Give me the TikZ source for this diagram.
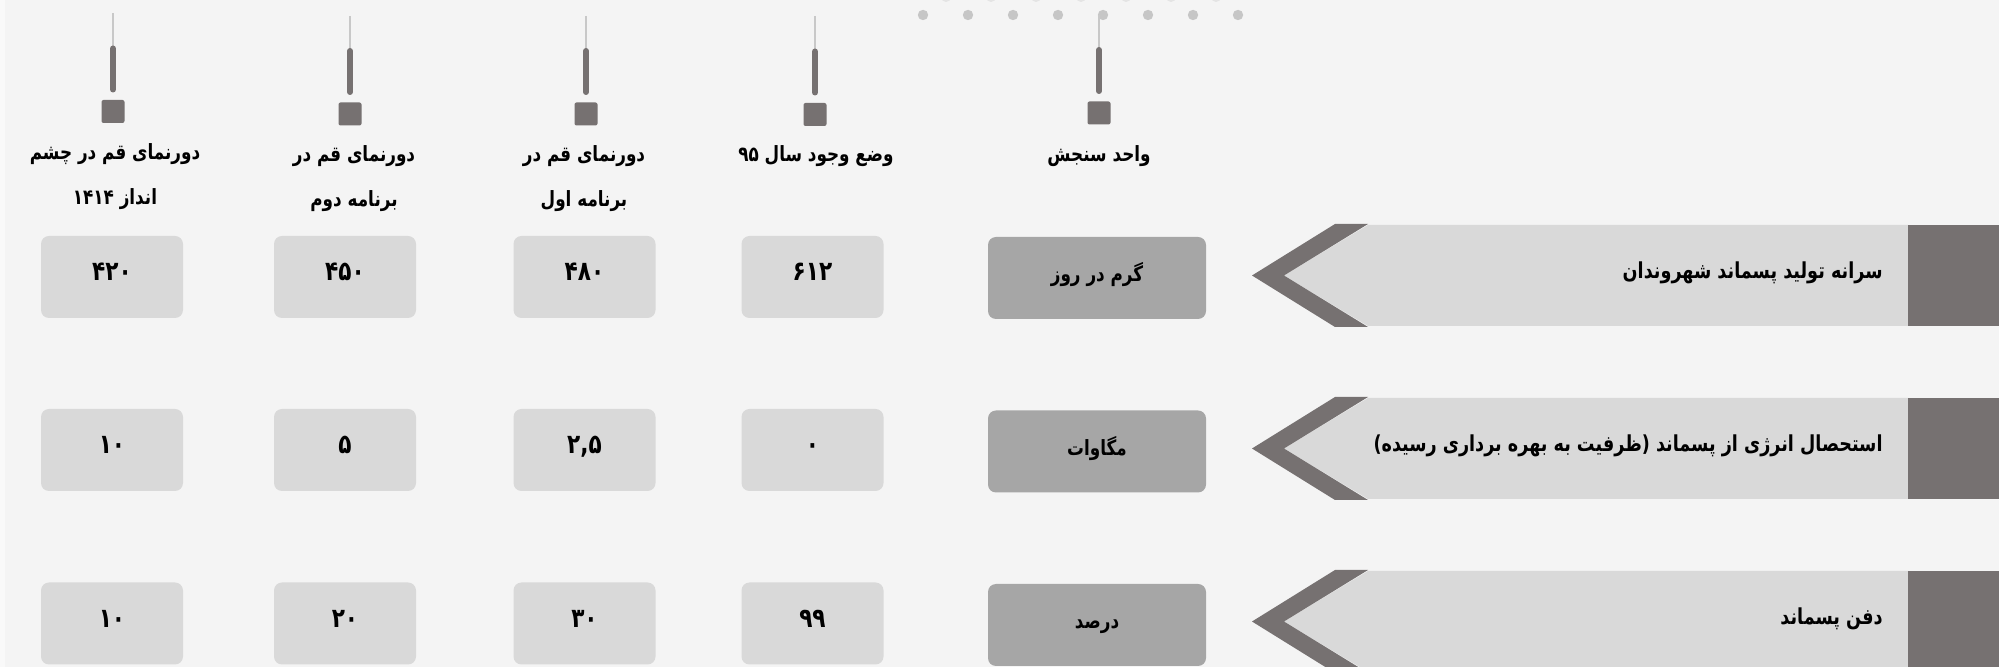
\documentclass[tikz,border=0pt]{standalone}
\usepackage{fontspec}
\TeXXeTstate=1
\newfontfamily\fa[Script=Arabic,FakeStretch=0.8]{DejaVu Sans}
\definecolor{bg}{HTML}{F4F4F4}
\definecolor{dk}{HTML}{767171}
\definecolor{lt}{HTML}{D9D9D9}
\definecolor{md}{HTML}{A6A6A6}
\definecolor{thinc}{HTML}{C8C8C8}
\definecolor{dotc}{HTML}{C6C6C6}
\definecolor{dotf}{HTML}{E4E4E4}
\tikzset{
 valbox/.style={fill=lt, rounded corners=4pt, minimum width=71pt, minimum height=41pt, inner sep=0pt,
   text height=4pt, text depth=0pt, font=\fa\bfseries\fontsize{13.5}{15}\selectfont},
 unitbox/.style={fill=md, rounded corners=4pt, minimum width=109pt, minimum height=41pt, inner sep=0pt,
   text height=4pt, text depth=0pt, font=\fa\bfseries\fontsize{10.5}{13}\selectfont},
 headtxt/.style={anchor=base, inner sep=0pt, font=\fa\bfseries\fontsize{10.5}{13}\selectfont},
 bandtxt/.style={anchor=base east, inner sep=0pt, font=\fa\bfseries\fontsize{11}{13}\selectfont},
 pinsq/.style={fill=dk, rounded corners=1pt, minimum size=11.5pt, inner sep=0pt},
 thinline/.style={draw=thinc, line width=1.4pt},
 thickline/.style={draw=dk, line width=3pt, line cap=round},
}
\begin{document}
\begin{tikzpicture}[x=0.5pt,y=-0.5pt]
\useasboundingbox (0,0) rectangle (1999,667);
\fill[bg] (0,0) rectangle (1999,667);
\fill[white!50!bg] (0,0) rectangle (5,667);
% faint dots at the top
\foreach \k in {0,...,6} \fill[dotf] (946+45*\k,-3) circle (2.5pt);
\foreach \k in {0,...,7} \fill[dotc] (923+45*\k,15) circle (2.6pt);
% pins
\foreach \x/\t/\s [count=\i] in {113/13/111.5, 350/16/114, 586/16/114, 815/16/114.5, 1099/15/113}{
  \draw[thinline] (\x,\t) -- (\x,\s-63);
  \draw[thickline] (\x,\s-63) -- (\x,\s-22);
  \node[pinsq] (pin\i) at (\x,\s) {};
}
% headers
\node[headtxt] (h1a) at (115,160) {\beginR دورنمای قم در چشم\endR};
\node[headtxt] (h1b) at (115,205) {\beginR انداز ۱۴۱۴\endR};
\node[headtxt] (h2a) at (354,162) {\beginR دورنمای قم در\endR};
\node[headtxt] (h2b) at (354,207) {\beginR برنامه دوم\endR};
\node[headtxt] (h3a) at (584,162) {\beginR دورنمای قم در\endR};
\node[headtxt] (h3b) at (584,207) {\beginR برنامه اول\endR};
\node[headtxt] (h4) at (816,162) {\beginR وضع وجود سال ۹۵\endR};
\node[headtxt] (h5) at (1099,162) {\beginR واحد سنجش\endR};
% bands
\foreach \dy/\txt [count=\r] in {0/{سرانه تولید پسماند شهروندان},
   173/{استحصال انرژی از پسماند (ظرفیت به بهره برداری رسیده)},
   346/{دفن پسماند}}{
  \fill[lt] (1368,225+\dy) -- (1908,225+\dy) -- (1908,326+\dy) -- (1368,326+\dy) -- (1284,275.5+\dy) -- cycle;
  \fill[dk] (1335,224+\dy) -- (1368,224+\dy) -- (1284,275.5+\dy) -- (1368,327+\dy) -- (1335,327+\dy) -- (1252,275.5+\dy) -- cycle;
  \fill[dk] (1908,225+\dy) rectangle (1999,326+\dy);
  \node[bandtxt] (b\r) at (1883,279+\dy) {\beginR\txt\endR};
}
% row 1
\node[unitbox] (u1) at (1097,278) {\beginR گرم در روز\endR};
\node[valbox] (v14) at (812.5,277) {۶۱۲};
\node[valbox] (v13) at (584.5,277) {۴۸۰};
\node[valbox] (v12) at (345,277) {۴۵۰};
\node[valbox] (v11) at (112,277) {۴۲۰};
% row 2
\node[unitbox] (u2) at (1097,451.5) {\beginR مگاوات\endR};
\node[valbox] (v24) at (812.5,450) {۰};
\node[valbox] (v23) at (584.5,450) {۲,۵};
\node[valbox] (v22) at (345,450) {۵};
\node[valbox] (v21) at (112,450) {۱۰};
% row 3
\node[unitbox] (u3) at (1097,625) {\beginR درصد\endR};
\node[valbox] (v34) at (812.5,623.5) {۹۹};
\node[valbox] (v33) at (584.5,623.5) {۳۰};
\node[valbox] (v32) at (345,623.5) {۲۰};
\node[valbox] (v31) at (112,623.5) {۱۰};
\end{tikzpicture}
\end{document}
